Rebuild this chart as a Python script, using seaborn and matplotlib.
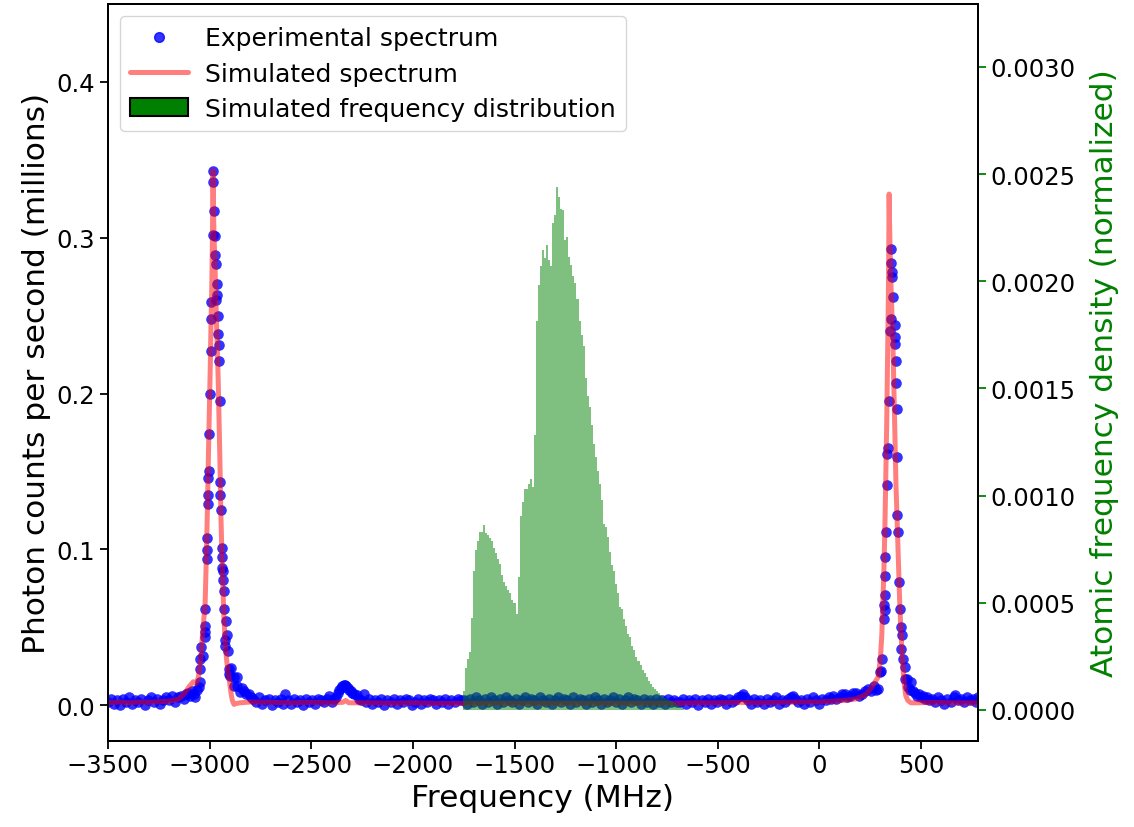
import matplotlib
matplotlib.use("Agg")
import matplotlib.pyplot as plt
import matplotlib.ticker as mticker
import seaborn as sns
import pandas as pd
from matplotlib.lines import Line2D
from matplotlib.patches import Patch

# ---------------- data ----------------
# Experimental spectrum (frequency in MHz, photon counts in millions per second)
exp_base_left_freq = [-3500, -3485, -3470, -3455, -3440, -3425, -3410, -3395, -3380, -3365,
                      -3350, -3335, -3320, -3305, -3290, -3275, -3260, -3245, -3230, -3215,
                      -3200, -3185, -3170, -3155, -3140, -3125, -3115]
exp_base_left_counts = [0.002, 0.004, 0.001, 0.003, 0.000, 0.004, 0.002, 0.005, 0.001, 0.003,
                        0.002, 0.004, 0.000, 0.003, 0.005, 0.002, 0.004, 0.001, 0.003, 0.005,
                        0.003, 0.006, 0.002, 0.005, 0.006, 0.004, 0.007]

exp_peak1_freq = [-3105, -3095, -3085, -3075, -3070, -3062, -3054, -3046, -3045, -3046,
                  -3041, -3034, -3024, -3024, -3021, -3021, -3015, -3015, -3011, -3010,
                  -3008, -3008, -3005, -3001, -2998, -2995, -2995, -2992, -2985, -2982,
                  -2982, -2979, -2975, -2972, -2968, -2967, -2964, -2964, -2960, -2958,
                  -2955, -2953, -2950, -2947, -2949, -2944, -2941, -2939, -2939, -2934,
                  -2932, -2929, -2927, -2926, -2923, -2921, -2914, -2910, -2906, -2903,
                  -2898, -2895, -2882, -2882, -2865, -2865, -2849, -2840, -2832, -2820,
                  -2808, -2795]
exp_peak1_counts = [0.008, 0.006, 0.009, 0.007, 0.005, 0.010, 0.0114, 0.0146, 0.023, 0.0295,
                    0.037, 0.0317, 0.0505, 0.0467, 0.0435, 0.062, 0.0995, 0.094, 0.107, 0.135,
                    0.129, 0.146, 0.150, 0.174, 0.200, 0.227, 0.248, 0.259, 0.302, 0.343,
                    0.336, 0.317, 0.301, 0.289, 0.260, 0.283, 0.270, 0.263, 0.250, 0.238,
                    0.221, 0.231, 0.195, 0.143, 0.135, 0.125, 0.095, 0.101, 0.088, 0.086,
                    0.080, 0.073, 0.062, 0.042, 0.038, 0.054, 0.045, 0.0345, 0.023, 0.020,
                    0.0188, 0.0236, 0.0178, 0.0124, 0.0124, 0.0178, 0.0082, 0.011, 0.009, 0.007,
                    0.007, 0.005]

exp_mid_freq = [-2785, -2770, -2755, -2740, -2725, -2710, -2695, -2680, -2665, -2650,
                -2640, -2627, -2615, -2600, -2585, -2570, -2555, -2540, -2525, -2510,
                -2495, -2480, -2465, -2450, -2435, -2420, -2413, -2400, -2390, -2380,
                -2370, -2362, -2355, -2348, -2341, -2334, -2327, -2320, -2313, -2305,
                -2298, -2288, -2276, -2265, -2254, -2242, -2230, -2215, -2200, -2185,
                -2170, -2155, -2140, -2125, -2110, -2095, -2080, -2065, -2050, -2035,
                -2020, -2005, -1990, -1975, -1960, -1945, -1930, -1915, -1900, -1885,
                -1870, -1855, -1840, -1825, -1810, -1795, -1780, -1765]
exp_mid_counts = [0.004, 0.002, 0.005, 0.001, 0.003, 0.004, 0.000, 0.003, 0.002, 0.004,
                  0.001, 0.007, 0.003, 0.001, 0.004, 0.002, 0.003, 0.000, 0.004, 0.002,
                  0.003, 0.001, 0.004, 0.003, 0.002, 0.004, 0.006, 0.002, 0.004, 0.005,
                  0.008, 0.010, 0.011, 0.012, 0.013, 0.013, 0.012, 0.011, 0.010, 0.009,
                  0.008, 0.007, 0.0067, 0.004, 0.003, 0.007, 0.002, 0.004, 0.001, 0.003,
                  0.002, 0.004, 0.000, 0.003, 0.002, 0.004, 0.001, 0.003, 0.002, 0.004,
                  0.003, 0.000, 0.002, 0.004, 0.001, 0.003, 0.002, 0.004, 0.003, 0.001,
                  0.003, 0.002, 0.004, 0.001, 0.003, 0.002, 0.004, 0.003]

exp_hist_region_freq = [-1750, -1735, -1720, -1705, -1690, -1675, -1660, -1645, -1630, -1615,
                        -1600, -1585, -1570, -1555, -1540, -1525, -1510, -1495, -1480, -1465,
                        -1450, -1435, -1420, -1405, -1390, -1375, -1360, -1345, -1330, -1315,
                        -1300, -1285, -1270, -1255, -1240, -1225, -1210, -1195, -1180, -1165,
                        -1150, -1135, -1120, -1105, -1090, -1075, -1060, -1045, -1030, -1015,
                        -1000, -985, -970, -955, -940, -925, -910, -895, -880, -865,
                        -850, -835, -820, -805, -790, -775, -760, -745, -730, -715, -700]
exp_hist_region_counts = [0.003, 0.001, 0.004, 0.002, 0.005, 0.003, 0.001, 0.004, 0.002, 0.005,
                          0.003, 0.001, 0.004, 0.002, 0.005, 0.003, 0.002, 0.004, 0.001, 0.003,
                          0.005, 0.002, 0.004, 0.003, 0.001, 0.005, 0.003, 0.002, 0.004, 0.001,
                          0.003, 0.005, 0.002, 0.004, 0.003, 0.001, 0.005, 0.002, 0.004, 0.003,
                          0.001, 0.004, 0.002, 0.005, 0.003, 0.001, 0.004, 0.002, 0.003, 0.005,
                          0.002, 0.004, 0.001, 0.003, 0.005, 0.002, 0.004, 0.003, 0.001, 0.004,
                          0.002, 0.003, 0.001, 0.004, 0.002, 0.003, 0.001, 0.004, 0.002, 0.003, 0.002]

exp_right_freq = [-685, -670, -655, -640, -625, -610, -595, -580, -565, -550,
                  -535, -520, -505, -490, -475, -460, -445, -430, -415, -400,
                  -388, -376, -364, -350, -335, -320, -305, -290, -275, -260,
                  -245, -230, -215, -200, -185, -170, -155, -142, -130, -118,
                  -105, -90, -75, -60, -45, -30, -15, 0, 15, 30, 45, 55]
exp_right_counts = [0.002, 0.004, 0.001, 0.003, 0.002, 0.004, 0.000, 0.003, 0.002, 0.004,
                    0.001, 0.003, 0.002, 0.004, 0.003, 0.001, 0.004, 0.002, 0.003, 0.005,
                    0.006, 0.007, 0.005, 0.003, 0.001, 0.004, 0.002, 0.003, 0.001, 0.004,
                    0.002, 0.003, 0.005, 0.001, 0.003, 0.002, 0.004, 0.005, 0.006, 0.004,
                    0.002, 0.003, 0.001, 0.004, 0.002, 0.005, 0.003, 0.001, 0.004, 0.003,
                    0.005, 0.004]

exp_peak2_freq = [67, 82, 100, 112, 125, 138, 150, 165, 182, 196,
                  210, 225, 240, 256, 270, 280, 289, 297, 302, 310,
                  317, 322, 319, 322, 325, 325, 330, 333.5, 333.5, 338,
                  343.5, 345, 350, 351.5, 351, 355, 358, 363, 370, 371,
                  373, 375, 376, 381, 383, 384, 388, 391, 396, 399,
                  401, 404, 409, 420, 420, 429, 437, 445, 453, 462,
                  470, 480, 490, 500, 511, 520, 530, 540]
exp_peak2_counts = [0.006, 0.004, 0.005, 0.007, 0.007, 0.005, 0.006, 0.008, 0.008, 0.006,
                    0.007, 0.009, 0.0103, 0.0092, 0.012, 0.010, 0.0103, 0.021, 0.022, 0.0295,
                    0.0552, 0.0612, 0.0642, 0.0706, 0.083, 0.095, 0.111, 0.141, 0.161, 0.165,
                    0.195, 0.240, 0.248, 0.293, 0.284, 0.278, 0.275, 0.262, 0.232, 0.244,
                    0.236, 0.207, 0.221, 0.190, 0.159, 0.122, 0.111, 0.079, 0.062, 0.0499,
                    0.036, 0.045, 0.0295, 0.0242, 0.0167, 0.0167, 0.0114, 0.010, 0.0146, 0.009,
                    0.008, 0.006, 0.007, 0.005, 0.006, 0.004, 0.005, 0.003]

exp_end_freq = [555, 570, 585, 600, 615, 630, 645, 660, 667, 680, 695, 710, 725, 740, 755, 770, 780]
exp_end_counts = [0.004, 0.002, 0.005, 0.003, 0.001, 0.004, 0.002, 0.005, 0.0064, 0.003,
                  0.004, 0.002, 0.005, 0.003, 0.004, 0.002, 0.005]

# Simulated spectrum
sim_freq = [-3500, -3450, -3400, -3350, -3300, -3250, -3200, -3150, -3120, -3100,
            -3080, -3065, -3055, -3045, -3035, -3022, -3016, -3010, -3005, -3001,
            -2997, -2993, -2989, -2986, -2983, -2981, -2978, -2974, -2970, -2966,
            -2961, -2957, -2953, -2949, -2945, -2940, -2935, -2930, -2924, -2917,
            -2910, -2903, -2895, -2888, -2880, -2870, -2850, -2800, -2700, -2600,
            -2500, -2400, -2345, -2330, -2315, -2200, -2100, -2000, -1900, -1750,
            -1500, -1200, -1000, -800, -700, -600, -500, -400, -300, -200,
            -100, 0, 60, 120, 180, 230, 260, 289, 300, 307,
            312, 318, 323, 327, 331, 334, 337, 339, 341, 343,
            345, 348, 352, 357, 362, 367, 372, 377, 382, 388,
            394, 400, 406, 412, 418, 425, 435, 450, 480, 550,
            650, 780]
sim_counts = [0.0015, 0.002, 0.0015, 0.002, 0.0018, 0.0022, 0.0025, 0.004, 0.008, 0.012,
              0.015, 0.014, 0.018, 0.028, 0.045, 0.065, 0.095, 0.13, 0.165, 0.19,
              0.215, 0.245, 0.27, 0.30, 0.343, 0.32, 0.30, 0.285, 0.265, 0.245,
              0.225, 0.205, 0.18, 0.155, 0.125, 0.10, 0.078, 0.058, 0.042, 0.030,
              0.022, 0.016, 0.008, 0.003, 0.0005, 0.001, 0.0015, 0.002, 0.0018, 0.0015,
              0.0018, 0.0015, 0.0018, 0.003, 0.0015, 0.0015, 0.0012, 0.0015, 0.0012, 0.0012,
              0.0012, 0.0012, 0.0012, 0.0012, 0.0012, 0.0015, 0.0015, 0.0018, 0.0015, 0.0018,
              0.002, 0.002, 0.0025, 0.003, 0.004, 0.007, 0.012, 0.018, 0.03, 0.045,
              0.065, 0.09, 0.12, 0.15, 0.18, 0.21, 0.24, 0.26, 0.29, 0.328,
              0.31, 0.29, 0.27, 0.25, 0.23, 0.20, 0.17, 0.14, 0.12, 0.095,
              0.07, 0.05, 0.035, 0.022, 0.013, 0.006, 0.003, 0.0015, 0.0015, 0.0018,
              0.0015, 0.0015]

# Simulated atomic frequency distribution (normalized density per bin)
hist_start = -1755
hist_bin_width = 10.0
hist_density = [0.88e-4, 1.96e-4, 2.38e-4, 2.71e-4, 4.30e-4, 6.47e-4, 7.47e-4, 7.89e-4, 8.30e-4, 8.30e-4,
                8.64e-4, 8.25e-4, 8.14e-4, 8.00e-4, 7.89e-4, 7.55e-4, 7.30e-4, 7.05e-4, 6.80e-4, 6.30e-4,
                5.97e-4, 5.80e-4, 5.60e-4, 5.47e-4, 5.13e-4, 4.97e-4, 4.47e-4, 6.22e-4, 9.06e-4, 9.72e-4,
                10.31e-4, 10.31e-4, 10.56e-4, 10.76e-4, 10.39e-4, 12.81e-4, 18.15e-4, 19.82e-4, 20.73e-4, 21.44e-4,
                21.07e-4, 21.70e-4, 20.99e-4, 20.73e-4, 22.74e-4, 23.10e-4, 24.41e-4, 23.91e-4, 23.37e-4, 23.31e-4,
                21.91e-4, 22.07e-4, 21.15e-4, 20.77e-4, 20.24e-4, 19.90e-4, 19.15e-4, 18.15e-4, 17.48e-4, 16.98e-4,
                15.48e-4, 14.65e-4, 14.15e-4, 13.31e-4, 12.42e-4, 11.81e-4, 11.14e-4, 10.56e-4, 9.81e-4, 8.69e-4,
                8.55e-4, 8.09e-4, 7.39e-4, 6.75e-4, 6.47e-4, 5.88e-4, 5.47e-4, 4.80e-4, 4.72e-4, 4.25e-4,
                3.91e-4, 3.55e-4, 3.38e-4, 2.96e-4, 2.80e-4, 2.46e-4, 2.30e-4, 2.08e-4, 1.88e-4, 1.71e-4,
                1.54e-4, 1.34e-4, 1.21e-4, 1.08e-4, 0.96e-4, 0.88e-4, 0.79e-4, 0.68e-4, 0.58e-4, 0.54e-4,
                0.50e-4, 0.45e-4, 0.40e-4, 0.35e-4, 0.30e-4, 0.25e-4, 0.20e-4, 0.15e-4, 0.10e-4]

x_ticks = [-3500, -3000, -2500, -2000, -1500, -1000, -500, 0, 500]
left_ticks = [0.0, 0.1, 0.2, 0.3, 0.4]
right_ticks = [0.0, 0.0005, 0.0010, 0.0015, 0.0020, 0.0025, 0.0030]

# ---------------- build frames ----------------
exp_df = pd.DataFrame({
    "freq": exp_base_left_freq + exp_peak1_freq + exp_mid_freq + exp_hist_region_freq
            + exp_right_freq + exp_peak2_freq + exp_end_freq,
    "counts": exp_base_left_counts + exp_peak1_counts + exp_mid_counts + exp_hist_region_counts
              + exp_right_counts + exp_peak2_counts + exp_end_counts,
})
sim_df = pd.DataFrame({"freq": sim_freq, "counts": sim_counts})

n_bins = len(hist_density)
edges = [hist_start + hist_bin_width * i for i in range(n_bins + 1)]
centers = [0.5 * (edges[i] + edges[i + 1]) for i in range(n_bins)]
hist_df = pd.DataFrame({"freq": centers, "density": hist_density})

# ---------------- style ----------------
sns.set_theme(style="ticks")
plt.rcParams["font.family"] = ["DejaVu Sans"]
plt.rcParams["text.color"] = "black"
plt.rcParams["axes.labelcolor"] = "black"
plt.rcParams["xtick.color"] = "black"
plt.rcParams["ytick.color"] = "black"
plt.rcParams["axes.linewidth"] = 1.4
plt.rcParams["xtick.major.width"] = 1.3
plt.rcParams["ytick.major.width"] = 1.3
plt.rcParams["xtick.major.size"] = 5.5
plt.rcParams["ytick.major.size"] = 5.5
plt.rcParams["axes.edgecolor"] = "black"

fig = plt.figure(figsize=(11.34, 8.28), dpi=100)
ax = fig.add_axes([0.0952, 0.1039, 0.7672, 0.8901])

sns.scatterplot(data=exp_df, x="freq", y="counts", ax=ax, color="blue", alpha=0.8,
                s=58, linewidth=0, zorder=2, legend=False)
sns.lineplot(data=sim_df, x="freq", y="counts", ax=ax, color="red", alpha=0.5,
             linewidth=3.6, sort=False, estimator=None, zorder=3, legend=False)

ax.set_xlim(-3500, 780)
ax.set_ylim(-0.023, 0.45)
ax.set_xticks(x_ticks)
ax.set_yticks(left_ticks)
ax.tick_params(axis="both", labelsize=17.5, colors="black")
ax.set_xlabel("Frequency (MHz)", fontsize=22.5, color="black")
ax.set_ylabel("Photon counts per second (millions)", fontsize=22.5, color="black")

ax2 = ax.twinx()
sns.histplot(data=hist_df, x="freq", weights="density", bins=edges, stat="count",
             ax=ax2, color="green", alpha=0.5, linewidth=0, legend=False)
ax2.set_ylim(-0.000145, 0.003294)
ax2.set_yticks(right_ticks)
ax2.yaxis.set_major_formatter(mticker.FormatStrFormatter("%.4f"))
ax2.tick_params(axis="y", labelsize=17.5, color="green", labelcolor="black")
ax2.set_ylabel("Atomic frequency density (normalized)", fontsize=22.5, color="green",
               labelpad=10)
ax2.set_xlabel("")
ax2.set_xlim(-3500, 780)
for sp in ax2.spines.values():
    sp.set_visible(True)
    sp.set_linewidth(1.4)
    sp.set_color("black")

handles = [
    Line2D([0], [0], marker="o", linestyle="none", color="blue", alpha=0.8, markersize=7),
    Line2D([0], [0], color="red", alpha=0.5, linewidth=3.6),
    Patch(facecolor="green", edgecolor="black", linewidth=1.5),
]
labels = ["Experimental spectrum", "Simulated spectrum", "Simulated frequency distribution"]
leg = ax2.legend(handles, labels, loc="upper left", fontsize=18, frameon=True,
                 bbox_to_anchor=(0.0, 1.0), borderaxespad=0.5, handlelength=2.3,
                 handletextpad=0.7, labelspacing=0.45, fancybox=True)
leg.get_frame().set_edgecolor("0.8")
for t in leg.get_texts():
    t.set_color("black")

fig.savefig("out.png", dpi=100)
